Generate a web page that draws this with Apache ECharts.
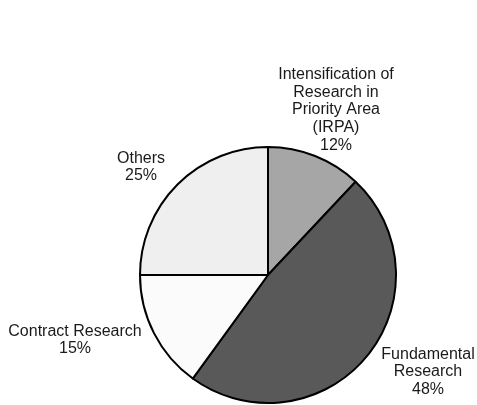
<!DOCTYPE html>
<html>
<head>
<meta charset="utf-8">
<script src="https://cdn.jsdelivr.net/npm/echarts@6/dist/echarts.min.js"></script>
<style>html,body{margin:0;padding:0;background:#fff;}#c{width:477px;height:405px;}</style>
</head>
<body>
<div id="c"></div>
<script>
var categories = ['Intensification of\nResearch in\nPriority Area\n(IRPA)', 'Fundamental\nResearch', 'Contract Research', 'Others'];
var values = [12, 48, 15, 25];
var colors = ['#a6a6a6', '#595959', '#fbfbfb', '#efefef'];

var labelPos = [[336, 110], [428, 372], [75, 340], [141, 167]];

var chart = echarts.init(document.getElementById('c'), null, {renderer: 'canvas'});
chart.setOption({
  animation: false,
  backgroundColor: '#ffffff',
  series: [{
    type: 'pie',
    center: [268, 275],
    radius: 128,
    startAngle: 90,
    clockwise: true,
    silent: true,
    data: categories.map(function (n, i) {
      return {name: n, value: values[i], itemStyle: {color: colors[i]}};
    }),
    itemStyle: {borderColor: '#000', borderWidth: 2},
    label: {
      show: true,
      position: 'outside',
      alignTo: 'none',
      overflow: 'none',
      formatter: '{b}\n{c}%',
      fontFamily: 'Liberation Sans, Arial, sans-serif',
      fontSize: 16,
      lineHeight: 17.7,
      color: '#1a1a1a',
      align: 'center'
    },
    labelLine: {show: false},
    labelLayout: function (p) {
      var pos = labelPos[p.dataIndex];
      return {x: pos[0], y: pos[1], align: 'center', verticalAlign: 'middle', width: 200};
    }
  }]
});
</script>
</body>
</html>
